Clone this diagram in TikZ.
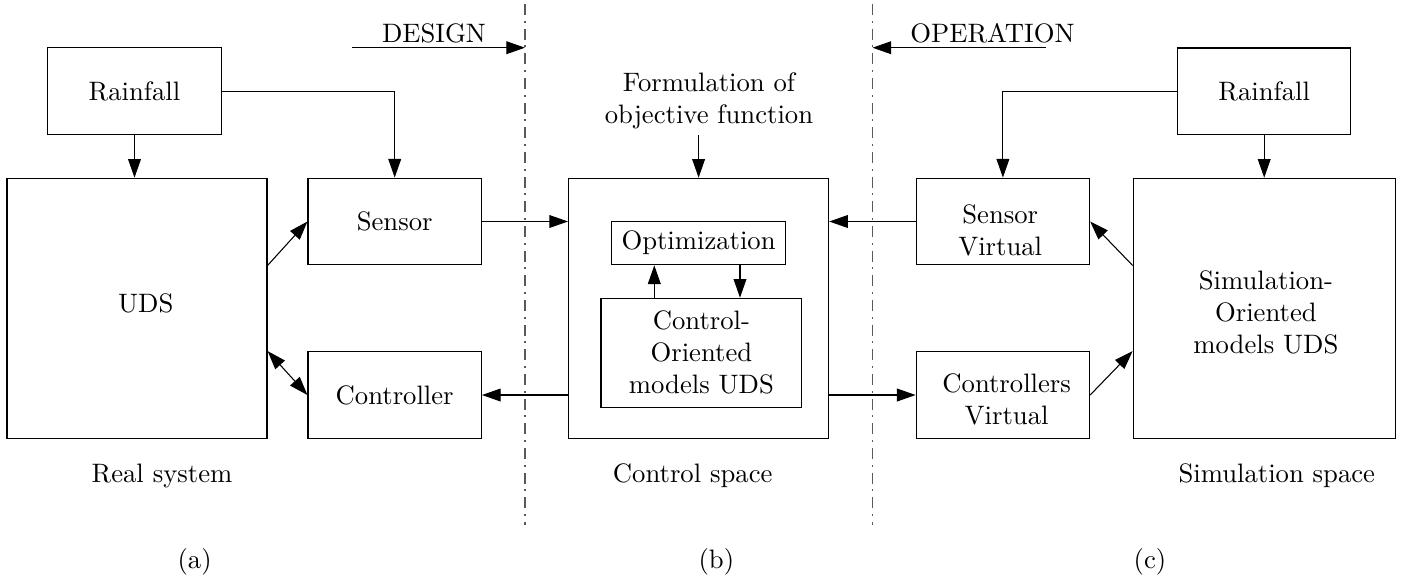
\documentclass[tikz,border=0pt]{standalone}
\usetikzlibrary{arrows.meta,calc}
\begin{document}
\begin{tikzpicture}[x=0.375pt,y=-0.375pt,
  box/.style={draw,line width=0.45pt,minimum width=65pt,minimum height=32.5pt,inner sep=0pt,align=center},
  bigbox/.style={draw,line width=0.45pt,minimum width=97.5pt,minimum height=97.5pt,inner sep=0pt,align=center},
  txt/.style={inner sep=0pt,align=center},
  arr/.style={line width=0.4pt,-{Triangle[length=7pt,width=4.8pt]}},
  darr/.style={line width=0.4pt,{Triangle[length=7pt,width=4.8pt]}-{Triangle[length=7pt,width=4.8pt]}},
  sep/.style={draw=black!65,dash pattern=on 4.1pt off 2.2pt on 0.75pt off 2.2pt, line width=0.4pt}
]
\useasboundingbox (0,0) rectangle (1408,580);

% boxes
\node[box] (rainL) at (134.5,91.2) {Rainfall};
\node[bigbox,label={[txt,xshift=3.3pt,yshift=1.9pt]center:UDS}] (uds) at (137,308.3) {};
\node[box] (sensor) at (394.7,221.5) {Sensor};
\node[box] (controller) at (394.7,395) {Controller};
\node[bigbox] (ctrl) at (698.6,308.3) {};
\node[box,minimum width=65.1pt,minimum height=16.3pt] (opt) at (698.6,243) {Optimization};
\node[box,minimum width=75.3pt,minimum height=40.8pt] (com) at (701.4,352.7) {Control-\\Oriented\\models UDS};
\node[box,label={[txt,xshift=-1pt,yshift=-3.45pt]center:{Sensor\\Virtual}}] (sv) at (1002.9,221.5) {};
\node[box,label={[txt,xshift=1.4pt,yshift=-1.6pt]center:{Controllers\\Virtual}}] (cv) at (1002.9,395) {};
\node[bigbox,minimum width=98.3pt,label={[txt,xshift=0.6pt,yshift=-1.6pt]center:{Simulation-\\Oriented\\models UDS}}] (sim) at (1264.3,308.3) {};
\node[box] (rainR) at (1264.2,91.3) {Rainfall};

% texts
\node[txt,inner sep=2pt] (form) at (709,101) {Formulation of\\objective function};
\node[txt] (design) at (434,33.5) {DESIGN};
\node[txt] (operation) at (992.5,33.5) {OPERATION};
\node[txt] (real) at (162,476) {Real system};
\node[txt] (cspace) at (692.7,476) {Control space};
\node[txt] (sspace) at (1276.8,476) {Simulation space};
\node[txt] (la) at (194.6,561.7) {(a)};
\node[txt] (lb) at (716.4,561.7) {(b)};
\node[txt] (lc) at (1150,561.7) {(c)};

% separators
\coordinate (s1t) at (525,4); \coordinate (s1b) at (525,525);
\coordinate (s2t) at (872.5,4); \coordinate (s2b) at (872.5,525);
\draw[sep] (s1t) -- (s1b);
\draw[sep] (s2t) -- (s2b);
\coordinate (dst) at (351.8,47.7);
\coordinate (ost) at (1046,47.7);
\draw[arr] (dst) -- (s1t |- dst);
\draw[arr] (ost) -- (s2t |- ost);

% connectors
\draw[arr] (rainL.south) -- (rainL.south |- uds.north);
\draw[arr] (rainL.east) -| (sensor.north);
\draw[arr] (uds.east |- sensor.south) -- (sensor.west);
\draw[darr] (uds.east |- controller.north) -- (controller.west);
\draw[arr] (sensor.east) -- (sensor.east -| ctrl.west);
\draw[arr] (ctrl.west |- controller.east) -- (controller.east);
\draw[arr] (form.south -| ctrl.north) -- (ctrl.north);
\coordinate (upx) at (654.3,0);
\coordinate (dnx) at (740,0);
\draw[arr] (upx |- com.north) -- (upx |- opt.south);
\draw[arr] (dnx |- opt.south) -- (dnx |- com.north);
\draw[arr] (sv.west) -- (sv.west -| ctrl.east);
\draw[arr] (ctrl.east |- cv.west) -- (cv.west);
\draw[arr] (cv.east) -- (sim.west |- cv.north);
\draw[arr] (sim.west |- sv.south) -- (sv.east);
\draw[arr] (rainR.west) -| (sv.north);
\draw[arr] (rainR.south) -- (rainR.south |- sim.north);
\end{tikzpicture}
\end{document}
